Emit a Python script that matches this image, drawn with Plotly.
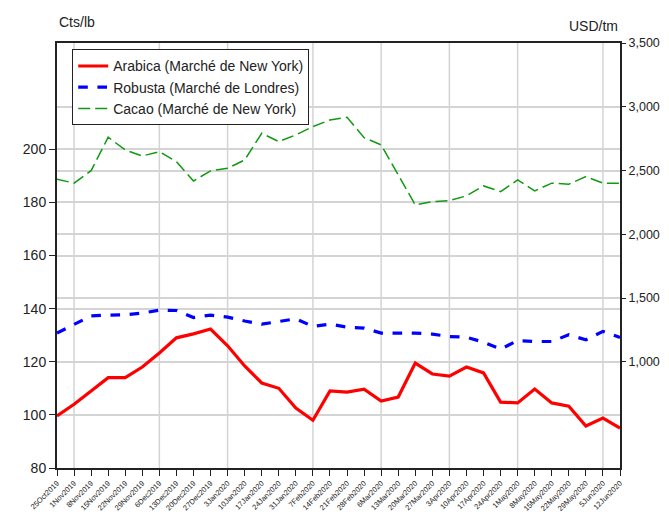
import plotly.graph_objects as go

# semaines (vendredi)
dates = ["25Oct2019", "1Nov2019", "8Nov2019", "15Nov2019", "22Nov2019", "29Nov2019",
         "6Dec2019", "13Dec2019", "20Dec2019", "27Dec2019", "3Jan2020", "10Jan2020",
         "17Jan2020", "24Jan2020", "31Jan2020", "7Feb2020", "14Feb2020", "21Feb2020",
         "28Feb2020", "6Mar2020", "13Mar2020", "20Mar2020", "27Mar2020", "3Apr2020",
         "10Apr2020", "17Apr2020", "24Apr2020", "1May2020", "8May2020", "15May2020",
         "22May2020", "29May2020", "5Jun2020", "12Jun2020"]

# Arabica, cts/lb (axe gauche)
arabica = [99.6, 104, 109, 114, 114, 118, 123.3, 129, 130.5, 132.3, 126, 118.4,
           112, 110, 102.6, 98, 109, 108.6, 109.7, 105.2, 106.7, 119.5, 115.4, 114.6,
           118, 115.8, 104.8, 104.5, 109.7, 104.5, 103.3, 95.8, 98.8, 95]

# Robusta, USD/tm (axe droit)
robusta = [1225, 1295, 1360, 1366, 1368, 1382, 1405, 1402, 1347, 1366, 1350, 1320,
           1295, 1316, 1337, 1277, 1295, 1272, 1264, 1225, 1225, 1225, 1217, 1198,
           1193, 1154, 1099, 1167, 1159, 1159, 1212, 1172, 1238, 1191]

# Cacao, USD/tm (axe droit)
cacao = [2432, 2401, 2499, 2761, 2661, 2614, 2648, 2570, 2418, 2497, 2518, 2583,
         2792, 2727, 2779, 2844, 2897, 2918, 2758, 2701, 2466, 2230, 2256, 2264,
         2301, 2379, 2335, 2426, 2340, 2401, 2393, 2452, 2401, 2401]

left_ticks = [80, 100, 120, 140, 160, 180, 200]
right_ticks = [1000, 1500, 2000, 2500, 3000, 3500]

x = list(range(len(dates)))

# première semaine de chaque mois -> lignes verticales de la grille
month_first = []
prev = None
for i, d in enumerate(dates):
    m = d[-7:-4]
    if m != prev and i > 0:
        month_first.append(i)
    prev = m

FONT = "Liberation Sans, Arial"
INK = "#222222"
GRID = "#d4d4d4"

fig = go.Figure()
fig.add_trace(go.Scatter(x=x, y=arabica, mode="lines", name="Arabica (Marché de New York)",
                         line=dict(color="#ff0000", width=3.2), yaxis="y"))
fig.add_trace(go.Scatter(x=x, y=robusta, mode="lines", name="Robusta (Marché de Londres)",
                         line=dict(color="#0000ff", width=3.2, dash="dash"), yaxis="y2"))
fig.add_trace(go.Scatter(x=x, y=cacao, mode="lines", name="Cacao (Marché de New York)",
                         line=dict(color="#119911", width=1.5, dash="12px,5px"), yaxis="y2"))

for m in month_first:
    fig.add_shape(type="line", xref="x", yref="paper", x0=m, x1=m, y0=0, y1=1,
                  line=dict(color=GRID, width=1.5), layer="below")

# la page ajoute une marge de 8 px : figure un peu plus petite que la fenêtre
fig.update_layout(
    width=661, height=504,
    margin=dict(l=49, r=49, t=35, b=44),
    paper_bgcolor="white", plot_bgcolor="white",
    font=dict(family=FONT, size=14, color=INK),
    showlegend=True,
    legend=dict(x=0.027, y=0.985, xanchor="left", yanchor="top",
                bordercolor=INK, borderwidth=1, bgcolor="white",
                font=dict(family=FONT, size=14, color=INK),
                tracegroupgap=0, itemwidth=30),
    xaxis=dict(range=[0, len(dates) - 1], tickvals=x, ticktext=dates, tickangle=-45,
               tickfont=dict(size=7.5), showgrid=False, zeroline=False, automargin=False,
               ticks="outside", ticklen=6, tickwidth=1.2, tickcolor=INK,
               showline=True, linecolor=INK, linewidth=2, mirror=True),
    yaxis=dict(range=[80, 240], tickvals=left_ticks, showgrid=True, automargin=False,
               gridcolor=GRID, gridwidth=1.5, zeroline=False,
               ticks="outside", ticklen=6, tickcolor=INK,
               showline=True, linecolor=INK, linewidth=2, mirror=True),
    yaxis2=dict(range=[167, 3500], tickvals=right_ticks, tickformat=",",
                tickfont=dict(size=12.5),
                overlaying="y", side="right", showgrid=True, automargin=False,
                gridcolor=GRID, gridwidth=1.5, zeroline=False,
                ticks="outside", ticklen=4, tickcolor=INK,
                showline=True, linecolor=INK, linewidth=2),
    annotations=[
        dict(text="Cts/lb", xref="paper", yref="paper", x=0, y=1, yshift=21,
             xanchor="left", yanchor="middle", showarrow=False, font=dict(size=14)),
        dict(text="USD/tm", xref="paper", yref="paper", x=1, y=1, yshift=17,
             xanchor="right", yanchor="middle", showarrow=False, font=dict(size=14)),
    ],
)

fig.write_html("out.html")
